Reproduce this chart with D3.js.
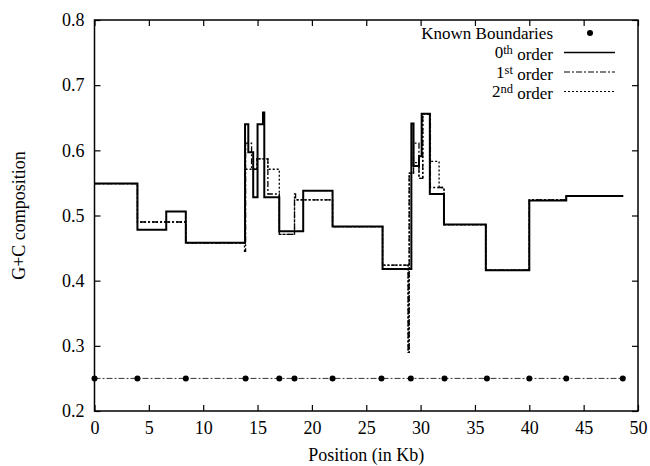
<!DOCTYPE html>
<html>
<head>
<meta charset="utf-8">
<script src="https://cdn.jsdelivr.net/npm/d3@7"></script>
<style>
  body { margin: 0; background: #fff; }
  .axis path { display: none; }
  .axis line { stroke: #000; stroke-width: 1.2; }
</style>
</head>
<body>
<div id="chart"></div>
<script>
// known segment boundaries (Kb), drawn at G+C = 0.25
var boundaries = [0, 3.95, 8.4, 13.9, 17.0, 18.4, 21.9, 26.4, 29.1, 32.2, 36.1, 40.0, 43.4, 48.6];
var boundaryLevel = 0.25;

// 0th order segmentation (step starts, values)
var order0Pos = [0, 3.95, 6.6, 8.4, 13.85, 14.15, 14.6, 15.0, 15.5, 15.62, 17.0, 19.2, 21.9, 26.5, 29.15, 29.35, 29.85, 30.1, 30.85, 32.15, 36.0, 40.0, 43.4, 48.65];
var order0Val = [0.549, 0.478, 0.506, 0.458, 0.640, 0.597, 0.528, 0.640, 0.658, 0.528, 0.476, 0.538, 0.483, 0.418, 0.641, 0.576, 0.591, 0.656, 0.533, 0.486, 0.416, 0.523, 0.530, 0.530];

// 1st order segmentation
var order1Pos = [0, 3.95, 8.4, 13.8, 13.9, 14.45, 14.95, 15.95, 17.0, 18.4, 18.5, 21.9, 26.5, 28.85, 28.95, 29.35, 29.85, 30.2, 30.9, 32.15, 36.0, 40.0, 43.4, 48.65];
var order1Val = [0.549, 0.490, 0.458, 0.445, 0.611, 0.571, 0.587, 0.533, 0.471, 0.533, 0.524, 0.483, 0.424, 0.290, 0.565, 0.611, 0.557, 0.656, 0.543, 0.486, 0.416, 0.524, 0.530, 0.530];

// 2nd order segmentation
var order2Pos = [0, 3.95, 8.4, 13.85, 14.95, 15.95, 17.0, 18.4, 21.9, 26.5, 28.85, 28.95, 29.35, 29.85, 30.2, 30.9, 31.7, 32.15, 36.0, 40.0, 43.4, 48.65];
var order2Val = [0.549, 0.490, 0.458, 0.571, 0.587, 0.571, 0.471, 0.524, 0.483, 0.424, 0.290, 0.565, 0.581, 0.557, 0.656, 0.583, 0.543, 0.486, 0.416, 0.524, 0.530, 0.530];

var xTicks = [0, 5, 10, 15, 20, 25, 30, 35, 40, 45, 50];
var yTicks = [0.2, 0.3, 0.4, 0.5, 0.6, 0.7, 0.8];

var margin = {top: 20, right: 12, bottom: 55, left: 94.5};
var width = 650 - margin.left - margin.right;
var height = 466 - margin.top - margin.bottom;
var serif = "'Liberation Serif'";

var x = d3.scaleLinear().domain([0, 50]).range([0, width]);
var y = d3.scaleLinear().domain([0.2, 0.8]).range([height, 0]);

var svg = d3.select('#chart').append('svg')
  .attr('width', 650)
  .attr('height', 466)
  .append('g')
  .attr('transform', 'translate(' + margin.left + ',' + margin.top + ')');

// axes, ticks pointing inward, mirrored on top and right
svg.append('g')
  .attr('class', 'x axis')
  .attr('transform', 'translate(0,' + height + ')')
  .call(d3.axisBottom(x).tickValues(xTicks).tickSizeInner(-6).tickPadding(10).tickFormat(d3.format('d')));

svg.append('g')
  .attr('class', 'x axis')
  .call(d3.axisTop(x).tickValues(xTicks).tickSizeInner(-6).tickFormat(''));

svg.append('g')
  .attr('class', 'y axis')
  .call(d3.axisLeft(y).tickValues(yTicks).tickSizeInner(-6).tickPadding(10).tickFormat(d3.format('.1f')));

svg.append('g')
  .attr('class', 'y axis')
  .attr('transform', 'translate(' + width + ',0)')
  .call(d3.axisRight(y).tickValues(yTicks).tickSizeInner(-6).tickFormat(''));

svg.append('rect')
  .attr('width', width)
  .attr('height', height)
  .attr('fill', 'none')
  .attr('stroke', '#000')
  .attr('stroke-width', 1.5);

var step = d3.line()
  .x(function(d) { return x(d[0]); })
  .y(function(d) { return y(d[1]); })
  .curve(d3.curveStepAfter);

function zip(pos, val) {
  return pos.map(function(p, i) { return [p, val[i]]; });
}

var series = [
  {name: '2nd', data: zip(order2Pos, order2Val), width: 1.3, dash: '2,2'},
  {name: '1st', data: zip(order1Pos, order1Val), width: 1.3, dash: '6,2,2,2'},
  {name: '0th', data: zip(order0Pos, order0Val), width: 2, dash: null}
];

svg.selectAll('.series')
  .data(series)
  .enter().append('path')
  .attr('class', 'series')
  .attr('d', function(d) { return step(d.data); })
  .attr('fill', 'none')
  .attr('stroke', '#000')
  .attr('stroke-width', function(d) { return d.width; })
  .attr('stroke-dasharray', function(d) { return d.dash; });

// known boundaries
svg.append('path')
  .attr('d', d3.line()([[x(boundaries[0]), y(boundaryLevel)], [x(boundaries[boundaries.length - 1]), y(boundaryLevel)]]))
  .attr('stroke', '#000')
  .attr('stroke-width', 0.8)
  .attr('stroke-dasharray', '6,2,2,2');

svg.selectAll('.boundary')
  .data(boundaries)
  .enter().append('circle')
  .attr('class', 'boundary')
  .attr('cx', function(d) { return x(d); })
  .attr('cy', y(boundaryLevel))
  .attr('r', 3);

// axis titles
svg.append('text')
  .attr('x', width / 2)
  .attr('y', height + 50)
  .attr('text-anchor', 'middle')
  .text('Position (in Kb)');

svg.append('text')
  .attr('transform', 'translate(' + (-70) + ',' + (height / 2) + ') rotate(-90)')
  .attr('text-anchor', 'middle')
  .text('G+C composition');

// legend
var legendX = 553 - margin.left;
var legendRows = [
  {base: 'Known Boundaries', sup: null, rest: '', y: 13},
  {base: '0', sup: 'th', rest: ' order', y: 32.5, dash: null, w: 1.5},
  {base: '1', sup: 'st', rest: ' order', y: 52, dash: '6,2,2,2', w: 1},
  {base: '2', sup: 'nd', rest: ' order', y: 71.5, dash: '2,2', w: 1}
];

legendRows.forEach(function(r, i) {
  var t = svg.append('text')
    .attr('x', legendX)
    .attr('y', r.y)
    .attr('dy', '0.35em')
    .attr('text-anchor', 'end')
    .style('font-size', '17px');
  t.append('tspan').text(r.base);
  if (r.sup) {
    t.append('tspan').attr('dy', '-0.35em').style('font-size', '12.5px').text(r.sup);
    t.append('tspan').attr('dy', '0.35em').text(r.rest);
  }
  if (i === 0) {
    svg.append('circle')
      .attr('cx', 590 - margin.left)
      .attr('cy', r.y)
      .attr('r', 3);
  } else {
    svg.append('line')
      .attr('x1', 564 - margin.left)
      .attr('x2', 615 - margin.left)
      .attr('y1', r.y)
      .attr('y2', r.y)
      .attr('stroke', '#000')
      .attr('stroke-width', r.w)
      .attr('stroke-dasharray', r.dash);
  }
});

// all text in a Times-like serif
svg.selectAll('.axis').attr('font-family', null).attr('font-size', null);
svg.selectAll('text')
  .style('font-family', serif)
  .style('fill', '#000')
  .each(function() {
    if (!this.style.fontSize) d3.select(this).style('font-size', '18px');
  });
</script>
</body>
</html>
